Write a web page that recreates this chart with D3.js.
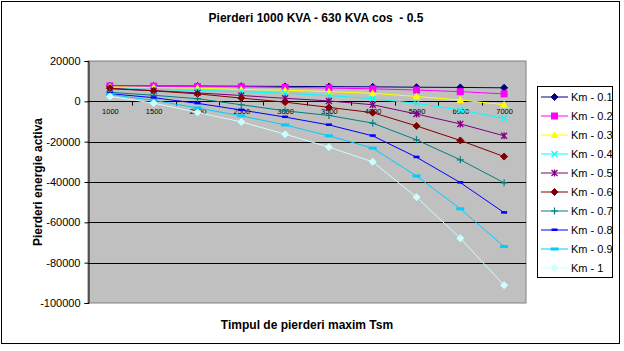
<!DOCTYPE html>
<html><head><meta charset="utf-8">
<script src="https://cdn.jsdelivr.net/npm/d3@7"></script>
<style>body{margin:0;background:#fff}svg{display:block}text{font-family:Arial,"Liberation Sans",sans-serif}</style>
</head><body>
<svg id="c" width="624" height="351"></svg>
<script>
const categories = ["1000","1500","2000","2500","3000","3500","4000","5000","6000","7000"];
const seriesNames = ["Km - 0.1","Km - 0.2","Km - 0.3","Km - 0.4","Km - 0.5","Km - 0.6","Km - 0.7","Km - 0.8","Km - 0.9","Km - 1"];
const km01 = [7700,7600,7600,7500,7400,7300,7200,7000,6900,6700];
const km02 = [7600,7500,7300,7200,6900,6600,6200,5600,4800,3700];
const km03 = [7200,6900,6500,5900,5500,4800,4000,2400,700,-1700];
const km04 = [6400,5900,5400,4800,4000,2900,1300,-1000,-4300,-8400];
const km05 = [6200,5300,4200,2900,1500,200,-1700,-6300,-11200,-17100];
const km06 = [6500,5200,3700,1600,-400,-3000,-5600,-12200,-19400,-27400];
const km07 = [4500,3000,1300,-1700,-4700,-7000,-10800,-19100,-29000,-40400];
const km08 = [3800,1800,-1000,-4300,-7800,-11700,-17100,-27700,-40300,-55200];
const km09 = [3400,500,-3300,-7200,-11700,-17100,-23200,-37000,-53300,-72000];
const km10 = [2400,-900,-5500,-10200,-16300,-22700,-30000,-47500,-67900,-91200];
const yTicks = [20000,0,-20000,-40000,-60000,-80000,-100000];
const gridValues = [-20000,-40000,-60000,-80000];

const allValues = [km01,km02,km03,km04,km05,km06,km07,km08,km09,km10];
const colors = ["#000080","#FF00FF","#FFFF00","#00FFFF","#800080","#800000","#008080","#0000FF","#00CCFF","#CCFFFF"];
const markers = ["diamond","square","triangle","x","star","diamond","plus","dash","bar","diamond"];

const svg = d3.select("#c");
svg.append("rect").attr("x",1.5).attr("y",1.5).attr("width",618).attr("height",342)
  .attr("fill","#fff").attr("stroke","#000").attr("stroke-width",1);

const L=88,R=526,T=61,B=303;
const x = d3.scalePoint().domain(categories).range([L,R]).padding(0.5);
const y = d3.scaleLinear().domain([-100000,20000]).range([B,T]);

svg.append("rect").attr("x",L).attr("y",T).attr("width",R-L).attr("height",B-T)
  .attr("fill","#C0C0C0").attr("stroke","#808080").attr("stroke-width",1);

svg.append("g").selectAll("line").data(gridValues).join("line")
  .attr("x1",L).attr("x2",R).attr("y1",d=>Math.round(y(d))+0.5).attr("y2",d=>Math.round(y(d))+0.5)
  .attr("stroke","#000").attr("stroke-width",1);

const yAxis = d3.axisLeft(y).tickValues(yTicks).tickSize(4).tickPadding(4).tickFormat(d=>String(d));
const ya = svg.append("g").attr("transform",`translate(${L+0.5},0)`).call(yAxis);
ya.select(".domain").attr("stroke","#000");
ya.selectAll("text").attr("font-size",11).attr("fill","#000").attr("font-family","Arial, 'Liberation Sans', sans-serif");

const y0 = Math.round(y(0))+0.5;
const xAxis = d3.axisBottom(x).tickSize(0).tickPadding(7);
const xa = svg.append("g").attr("transform",`translate(0,${y0})`).call(xAxis);
xa.select(".domain").remove();
xa.selectAll("text").attr("font-size",7.5).attr("fill","#000").attr("font-family","Arial, 'Liberation Sans', sans-serif");
svg.append("line").attr("x1",L).attr("x2",R).attr("y1",y0).attr("y2",y0).attr("stroke","#000");
const step = x.step();
const bounds = d3.range(1,categories.length).map(i=>L+i*step);
svg.append("g").selectAll("line").data(bounds).join("line")
  .attr("x1",d=>Math.round(d)+0.5).attr("x2",d=>Math.round(d)+0.5).attr("y1",y0).attr("y2",y0+4)
  .attr("stroke","#000");

function drawMarker(g, type, color, cx, cy){
  if(type==="diamond"){
    g.append("path").attr("d",`M${cx},${cy-3.5}L${cx+3.5},${cy}L${cx},${cy+3.5}L${cx-3.5},${cy}Z`).attr("fill",color).attr("stroke",color);
  } else if(type==="square"){
    g.append("rect").attr("x",cx-3.5).attr("y",cy-3.5).attr("width",7).attr("height",7).attr("fill",color);
  } else if(type==="triangle"){
    g.append("path").attr("d",`M${cx},${cy-4}L${cx+4},${cy+3}L${cx-4},${cy+3}Z`).attr("fill",color);
  } else if(type==="x"){
    g.append("path").attr("d",`M${cx-3},${cy-3}L${cx+3},${cy+3}M${cx-3},${cy+3}L${cx+3},${cy-3}`).attr("stroke",color).attr("stroke-width",1.3);
  } else if(type==="star"){
    g.append("path").attr("d",`M${cx-3},${cy-3}L${cx+3},${cy+3}M${cx-3},${cy+3}L${cx+3},${cy-3}M${cx},${cy-3.5}L${cx},${cy+3.5}`).attr("stroke",color).attr("stroke-width",1.3);
  } else if(type==="plus"){
    g.append("path").attr("d",`M${cx-3.5},${cy}L${cx+3.5},${cy}M${cx},${cy-3.5}L${cx},${cy+3.5}`).attr("stroke",color).attr("stroke-width",1.2);
  } else if(type==="dash"){
    g.append("rect").attr("x",cx-3).attr("y",cy-1.5).attr("width",6).attr("height",2.5).attr("fill",color);
  } else if(type==="bar"){
    g.append("rect").attr("x",cx-4).attr("y",cy-1.5).attr("width",8).attr("height",3).attr("fill",color);
  }
}

const line = d3.line().x((d,i)=>x(categories[i])).y(d=>y(d));
allValues.forEach((vals,si)=>{
  const g = svg.append("g");
  g.append("path").attr("d",line(vals)).attr("fill","none").attr("stroke",colors[si]).attr("stroke-width",1);
  vals.forEach((v,i)=>drawMarker(g,markers[si],colors[si],x(categories[i]),y(v)));
});

svg.append("text").attr("x",316).attr("y",22).attr("text-anchor","middle").attr("font-size",12).attr("font-weight","bold")
  .style("white-space","pre").text("Pierderi 1000 KVA - 630 KVA cos  - 0.5");
svg.append("text").attr("x",(L+R)/2).attr("y",329).attr("text-anchor","middle").attr("font-size",12).attr("font-weight","bold")
  .text("Timpul de pierderi maxim Tsm");
svg.append("text").attr("transform",`translate(42,${(T+B)/2}) rotate(-90)`).attr("text-anchor","middle").attr("font-size",12).attr("font-weight","bold")
  .text("Pierderi energie activa");

const lg = svg.append("g");
lg.append("rect").attr("x",537.5).attr("y",86.5).attr("width",75).attr("height",191).attr("fill","#fff").attr("stroke","#000");
seriesNames.forEach((n,i)=>{
  const ly = 97 + i*19;
  lg.append("line").attr("x1",541).attr("x2",568).attr("y1",ly).attr("y2",ly).attr("stroke",colors[i]);
  drawMarker(lg,markers[i],colors[i],554.5,ly);
  lg.append("text").attr("x",571).attr("y",ly+4).attr("font-size",11).text(n);
});
</script>
</body></html>
